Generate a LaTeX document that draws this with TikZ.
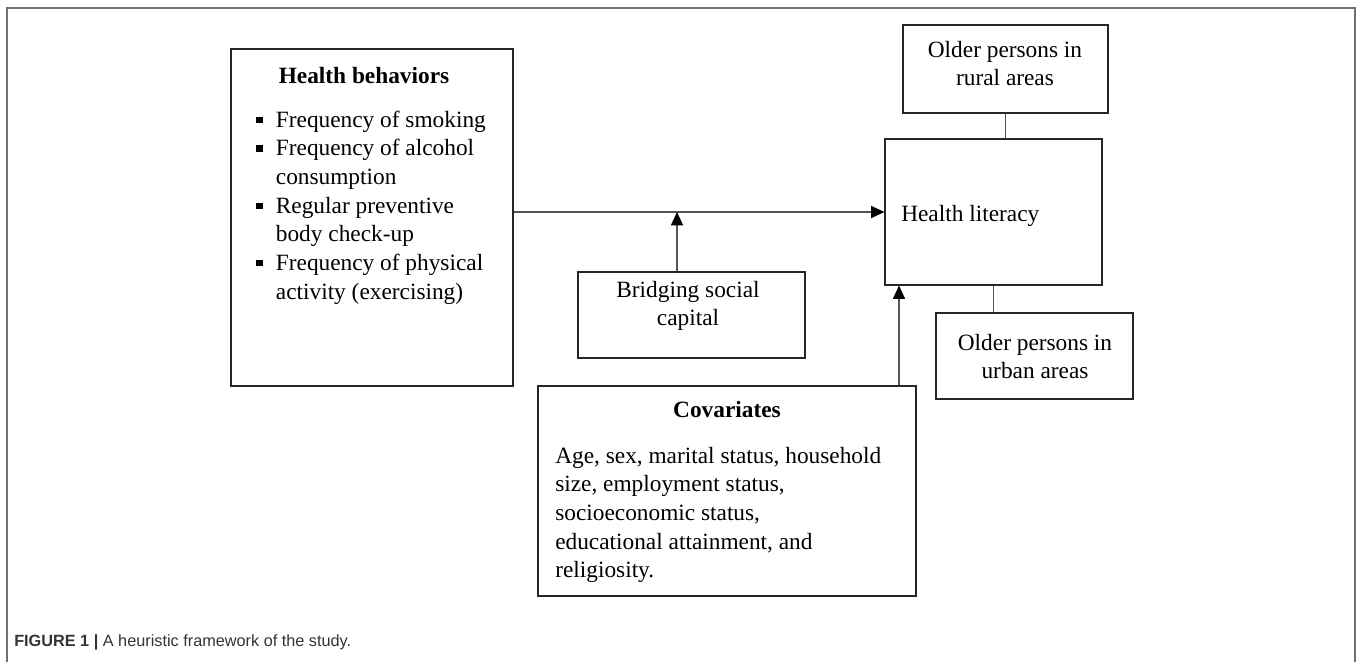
\documentclass[tikz,border=0pt]{standalone}
\usepackage{fontspec}
\setmainfont{Liberation Serif}
\newfontfamily\capfont{Liberation Sans}
\usetikzlibrary{arrows.meta,fit}

\definecolor{linegray}{HTML}{555555}
\definecolor{framegray}{HTML}{707070}
\definecolor{capgray}{HTML}{333333}

\newcommand{\hbsq}{\rule[0.17em]{0.27em}{0.27em}}

\tikzstyle{box} = [draw=black!85, line width=0.8pt, inner sep=0pt]
\tikzstyle{txt} = [inner sep=0pt, font=\fontsize{17.5}{21.5}\selectfont]
\tikzstyle{link} = [draw=linegray, line width=0.9pt]
\tikzstyle{arr} = [link, -{Triangle[length=10pt,width=9pt,color=black]}]

\begin{document}
\begin{tikzpicture}[x=0.75pt, y=-0.75pt]
  \useasboundingbox (0,0) rectangle (1358,662);
  \draw[framegray, line width=1.1pt] (7,662) -- (7,8) -- (1355,8) -- (1355,662);

  % boxes
  \node[box, fit={(231,49) (513,386)}] (hb) {};
  \node[box, fit={(885,139) (1102,285)}] (hl) {};
  \node[box, fit={(903,25) (1108,113)}] (rural) {};
  \node[box, fit={(936,313) (1133,399)}] (urban) {};
  \node[box, fit={(578,272) (805,358)}] (bsc) {};
  \node[box, fit={(538,386) (916,596)}] (cov) {};

  % texts
  \node[txt, anchor=base, font=\fontsize{17.5}{21.5}\selectfont\bfseries] (hbtitle) at (364,83) {Health behaviors};
  \node[txt, anchor=base west] (hbitems) at (256,127) {%
    \begin{tabular}[t]{@{}l@{\hspace{10pt}}l@{}}
      \hbsq & Frequency of smoking\\
      \hbsq & Frequency of alcohol\\
            & consumption\\
      \hbsq & Regular preventive\\
            & body check-up\\
      \hbsq & Frequency of physical\\
            & activity (exercising)
    \end{tabular}};
  \node[txt, anchor=base west] (hltext) at (901,221) {Health literacy};
  \node[txt, anchor=base] (ruraltext) at (1005,57) {%
    \begin{tabular}[t]{@{}c@{}}Older persons in\\rural areas\end{tabular}};
  \node[txt, anchor=base] (urbantext) at (1035,350) {%
    \begin{tabular}[t]{@{}c@{}}Older persons in\\urban areas\end{tabular}};
  \node[txt, anchor=base] (bsctext) at (688,297) {%
    \begin{tabular}[t]{@{}c@{}}Bridging social\\capital\end{tabular}};
  \node[txt, anchor=base, font=\fontsize{17.5}{21.5}\selectfont\bfseries] (covtitle) at (727,417) {Covariates};
  \node[txt, anchor=base west] (covtext) at (555,463) {%
    \begin{tabular}[t]{@{}l@{}}
      Age, sex, marital status, household\\
      size, employment status,\\
      socioeconomic status,\\
      educational attainment, and\\
      religiosity.
    \end{tabular}};

  % connectors
  \coordinate (bm) at (677,212);
  \coordinate (cu) at (899,0);
  \draw[arr] (hb.east |- hl.west) -- (hl.west);
  \draw[arr] (bsc.north -| bm) -- (bm);
  \draw[arr] (cov.north -| cu) -- (hl.south -| cu);
  \draw[link] (rural.south) -- (rural.south |- hl.north);
  \draw[link] (hl.south) -- (hl.south |- urban.north);

  % caption
  \node[anchor=base west, inner sep=0pt, text=capgray,
        font=\capfont\fontsize{12.2}{14}\selectfont] (caption) at (14,646)
    {\textbf{FIGURE 1 |} A heuristic framework of the study.};
\end{tikzpicture}
\end{document}
